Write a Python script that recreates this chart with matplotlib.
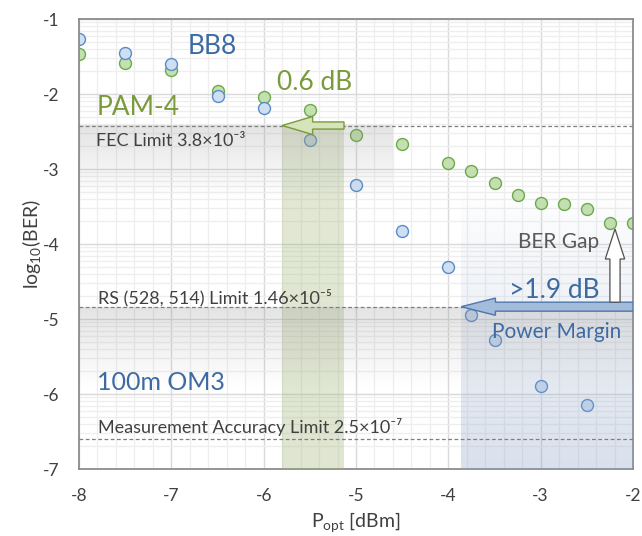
import numpy as np
import matplotlib
matplotlib.use("Agg")
import matplotlib.pyplot as plt
from matplotlib.patches import FancyArrow
from matplotlib.ticker import FixedLocator, FuncFormatter

plt.rcParams['font.family'] = ['Lato', 'DejaVu Sans']
plt.rcParams['mathtext.fontset'] = 'custom'
plt.rcParams['mathtext.rm'] = 'Lato'
plt.rcParams['mathtext.it'] = 'Lato:italic'

# ---------------- data ----------------
p_bb8 = [-8, -7.5, -7, -6.5, -6, -5.5, -5, -4.5, -4, -3.75, -3.5, -3, -2.5]
ber_bb8 = [-1.26, -1.45, -1.60, -2.02, -2.19, -2.61, -3.21, -3.83, -4.31, -4.94, -5.28, -5.89, -6.15]

p_pam4 = [-8, -7.5, -7, -6.5, -6, -5.5, -5, -4.5, -4, -3.75, -3.5, -3.25, -3, -2.75, -2.5, -2.25, -2]
ber_pam4 = [-1.47, -1.58, -1.68, -1.96, -2.04, -2.21, -2.55, -2.66, -2.92, -3.02, -3.19, -3.34, -3.45,
            -3.47, -3.53, -3.72, -3.72]

fec_limit = np.log10(3.8e-3)
rs_limit = np.log10(1.46e-5)
meas_limit = np.log10(2.5e-7)

x_ticks = [-8, -7, -6, -5, -4, -3, -2]
y_ticks = [-1, -2, -3, -4, -5, -6, -7]

green_band = (-5.80, -5.13)
blue_band = (-3.86, -2.0)

# ---------------- figure ----------------
fig = plt.figure(figsize=(6.42, 5.36), dpi=100)
ax = fig.add_axes([79/642, 1-469/536, (633-79)/642, (469-19)/536])
ax.set_xlim(-8, -2)
ax.set_ylim(-7, -1)
ax.set_autoscale_on(False)

# grid
ax.xaxis.set_major_locator(FixedLocator(x_ticks))
ax.yaxis.set_major_locator(FixedLocator(y_ticks))
ax.xaxis.set_minor_locator(FixedLocator(np.round(np.arange(-8, -1.99, 0.2), 2)))
ymin = []
for d in range(-7, -1):
    for k in range(2, 10):
        ymin.append(d + np.log10(k))
ax.yaxis.set_minor_locator(FixedLocator(ymin))
ax.grid(which='major', color='#d9d9d9', lw=1.0, zorder=0.5)
ax.grid(which='minor', color='#eeeeee', lw=0.9, zorder=0.4)
ax.set_axisbelow(True)
fmt = FuncFormatter(lambda v, p: '-%d' % abs(round(v)))
ax.xaxis.set_major_formatter(fmt)
ax.yaxis.set_major_formatter(fmt)
ax.tick_params(which='both', length=0, labelsize=12.5, labelcolor='#404040')
ax.tick_params(axis='x', pad=14)
ax.tick_params(axis='y', pad=14)
for s in ax.spines.values():
    s.set_color('#8c8c8c')
    s.set_linewidth(1.3)

# markers
ax.plot(p_pam4, ber_pam4, 'o', ms=8.6, mfc='#c5e0b0', mec='#6aaa4a', mew=1.0, zorder=2, ls='none')
ax.plot(p_bb8, ber_bb8, 'o', ms=8.6, mfc='#cfdff2', mec='#5a8bc8', mew=1.0, zorder=2.1, ls='none')

def vgrad(x0, x1, ytop, ybot, rgb, a_top, a_bot, n=256):
    a = np.linspace(a_top, a_bot, n)[:, None]
    img = np.zeros((n, 2, 4))
    img[..., 0] = rgb[0]
    img[..., 1] = rgb[1]
    img[..., 2] = rgb[2]
    img[..., 3] = np.repeat(a, 2, axis=1)
    ax.imshow(img, extent=(x0, x1, ybot, ytop), origin='upper', aspect='auto',
              interpolation='bilinear', zorder=3)

gray = (0.55, 0.55, 0.55)
# blue band
vgrad(blue_band[0], blue_band[1], -3.2, -7.0, (0.55, 0.64, 0.78), 0.0, 0.33)
# green band
vgrad(green_band[0], green_band[1], fec_limit, -7.0, (0.62, 0.70, 0.45), 0.30, 0.33)
# gray bands
vgrad(-8, -4.6, fec_limit, -3.4, gray, 0.24, 0.0)
vgrad(-8, -2, rs_limit, -5.9, gray, 0.24, 0.0)

# limit lines
for yl in (fec_limit, rs_limit, meas_limit):
    ax.axhline(yl, color='#7f7f7f', lw=0.9, ls=(0, (3, 2)), zorder=4)

# arrows
ax.add_patch(FancyArrow(green_band[1], fec_limit, green_band[0]-green_band[1], 0,
                        width=0.095, head_width=0.24, head_length=0.33,
                        length_includes_head=True, fc='#d6e4bb', ec='#7a9a3a', lw=1.0, zorder=5))
ax.add_patch(FancyArrow(blue_band[1], rs_limit, blue_band[0]-blue_band[1], 0,
                        width=0.12, head_width=0.23, head_length=0.37,
                        length_includes_head=True, fc='#a4bcdc', ec='#4f76ab', lw=1.0, zorder=5))
ax.add_patch(FancyArrow(-2.195, rs_limit + 0.06, 0, -3.80 - (rs_limit + 0.06),
                        width=0.11, head_width=0.21, head_length=0.40,
                        length_includes_head=True, fc='white', ec='#505050', lw=0.9, zorder=5))

# texts
blue_t = '#3e6aa3'
green_t = '#7b9a3c'
gray_t = '#404040'
ax.text(-6.82, -1.467, 'BB8', color=blue_t, fontsize=19, va='baseline', zorder=6)
ax.text(-7.805, -2.28, 'PAM-4', color=green_t, fontsize=19, va='baseline', zorder=6)
ax.text(-5.855, -1.947, '0.6 dB', color=green_t, fontsize=19, va='baseline', zorder=6)
ax.text(-7.805, -5.947, '100m OM3', color=blue_t, fontsize=18, va='baseline', zorder=6)
ax.text(-3.343, -4.72, '>1.9 dB', color=blue_t, fontsize=19, va='baseline', zorder=6)
ax.text(-3.527, -5.253, 'Power Margin', color=blue_t, fontsize=15, va='baseline', zorder=6)
ax.text(-3.245, -4.053, 'BER Gap', color='#595959', fontsize=15, va='baseline', zorder=6)
ax.text(-7.816, -2.693, 'FEC Limit 3.8×10⁻³', color=gray_t, fontsize=13, va='baseline', zorder=6)
ax.text(-7.794, -4.787, 'RS (528, 514) Limit 1.46×10⁻⁵', color=gray_t, fontsize=13, va='baseline', zorder=6)
ax.text(-7.794, -6.52, 'Measurement Accuracy Limit 2.5×10⁻⁷', color=gray_t, fontsize=13, va='baseline', zorder=6)

ax.set_ylabel('log$_{10}$(BER)', fontsize=14, color=gray_t, labelpad=0)
ax.set_xlabel('P$_{\\mathrm{opt}}$ [dBm]', fontsize=14, color=gray_t, labelpad=4)

fig.savefig('out.png', dpi=100, facecolor='white')
